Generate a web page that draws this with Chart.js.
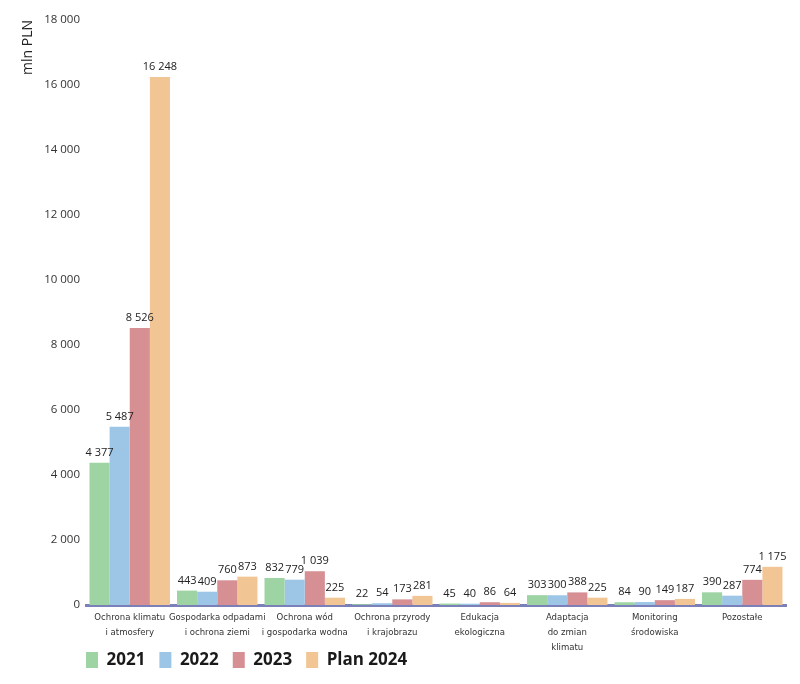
<!DOCTYPE html>
<html>
<head>
<meta charset="utf-8">
<script src="https://cdn.jsdelivr.net/npm/chart.js@4"></script>
<style>
  html, body { margin: 0; padding: 0; background: #fff; }
  #wykres { display: block; }
</style>
</head>
<body>
<canvas id="wykres" width="800" height="684"></canvas>
<script>
// kategorie (etykiety osi x, w wierszach)
const kategorie = [
  ["Ochrona klimatu", "i atmosfery"],
  ["Gospodarka odpadami", "i ochrona ziemi"],
  ["Ochrona wód", "i gospodarka wodna"],
  ["Ochrona przyrody", "i krajobrazu"],
  ["Edukacja", "ekologiczna"],
  ["Adaptacja", "do zmian", "klimatu"],
  ["Monitoring", "środowiska"],
  ["Pozostałe"]
];

// wartości w mln PLN
const dane2021 = [4377, 443, 832, 22, 45, 303, 84, 390];
const dane2022 = [5487, 409, 779, 54, 40, 300, 90, 287];
const dane2023 = [8526, 760, 1039, 173, 86, 388, 149, 774];
const plan2024 = [16248, 873, 225, 281, 64, 225, 187, 1175];

const serie = ["2021", "2022", "2023", "Plan 2024"];
const kolory = ["#9ed3a4", "#9dc5e6", "#d69094", "#f2c694"];

// format liczby ze spacją jako separatorem tysięcy
const formatuj = (v) => String(v).replace(/\B(?=(\d{3})+(?!\d))/g, " ");

// rysuje wartości nad słupkami
const etykietyWartosci = {
  id: "etykietyWartosci",
  afterDatasetsDraw(chart) {
    const ctx = chart.ctx;
    ctx.save();
    ctx.font = "11px 'Open Sans', sans-serif";
    ctx.fillStyle = "#222";
    ctx.textAlign = "center";
    ctx.textBaseline = "alphabetic";
    chart.data.datasets.forEach((ds, i) => {
      chart.getDatasetMeta(i).data.forEach((bar, j) => {
        ctx.fillText(formatuj(ds.data[j]), bar.x, bar.y - 7);
      });
    });
    ctx.restore();
  }
};

// legenda pod osią, od lewej krawędzi obszaru wykresu
const przesunLegende = {
  id: "przesunLegende",
  afterLayout(chart) {
    chart.legend.left = chart.chartArea.left - 14;
    chart.legend.top = 637.5;
  }
};

const datasets = [dane2021, dane2022, dane2023, plan2024].map((d, i) => ({
  label: serie[i],
  data: d,
  backgroundColor: kolory[i],
  borderWidth: 0,
  categoryPercentage: 0.92,
  barPercentage: 1.0
}));

const config = {
  type: "bar",
  data: { labels: kategorie, datasets },
  options: {
    responsive: false,
    animation: false,
    layout: { padding: { top: 20, right: 14, left: 10, bottom: -45 } },
    plugins: {
      tooltip: { enabled: false },
      legend: {
        position: "bottom",
        align: "start",
        labels: {
          boxWidth: 12,
          boxHeight: 16,
          padding: 14,
          color: "#1a1a1a",
          font: { family: "'Open Sans', sans-serif", size: 17, weight: "bold" }
        }
      }
    },
    scales: {
      x: {
        grid: { display: false, drawTicks: false },
        border: { display: true, color: "#7b80b8", width: 3 },
        afterFit: (s) => { s.height = 83; },
        ticks: {
          color: "#333",
          maxRotation: 0,
          autoSkip: false,
          padding: 5,
          font: {
            family: "'DejaVu Sans', sans-serif",
            weight: "normal condensed",
            size: 9.5,
            lineHeight: 1.58
          }
        }
      },
      y: {
        min: 0,
        max: 18000,
        grid: { display: false, drawTicks: false },
        border: { display: false },
        afterFit: (s) => { s.width = 76; },
        ticks: {
          stepSize: 2000,
          color: "#333",
          padding: 6,
          font: { family: "'Open Sans', sans-serif", size: 11.5 },
          callback: (v) => formatuj(v)
        },
        title: {
          display: true,
          text: "mln PLN",
          align: "end",
          color: "#222",
          padding: { top: 10, bottom: 4 },
          font: { family: "'Open Sans', sans-serif", size: 14 }
        }
      }
    }
  },
  plugins: [etykietyWartosci, przesunLegende]
};

const wykres = new Chart(document.getElementById("wykres"), config);
</script>
</body>
</html>
